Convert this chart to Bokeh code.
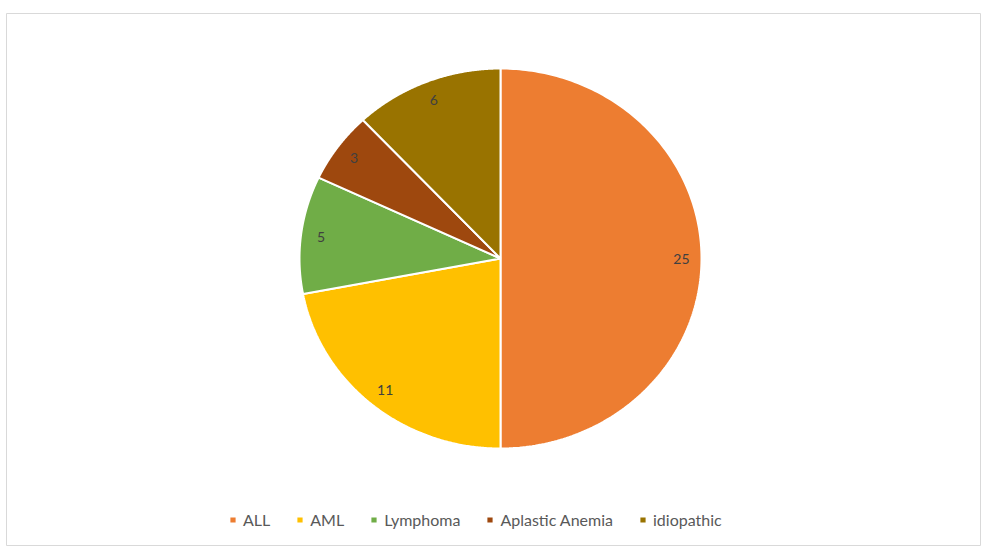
import numpy as np
from bokeh.plotting import figure
from bokeh.models import Range1d, ColumnDataSource, Legend, LegendItem
from bokeh.core.properties import value
from bokeh.embed import file_html
from bokeh.resources import INLINE

categories = ["ALL", "AML", "Lymphoma", "Aplastic Anemia", "idiopathic"]
counts = [25, 11, 5, 3, 6]
colors = ["#ED7D31", "#FFC000", "#70AD47", "#9E480E", "#997300"]

W, H = 981, 549
cx, cy, rx, ry = 500, 258, 201, 190

p = figure(width=W, height=H, output_backend="svg", toolbar_location=None,
           x_range=Range1d(6, W), y_range=Range1d(545, 13),
           min_border_left=6, min_border_top=13, min_border_bottom=4, min_border_right=0)
p.axis.visible = False
p.grid.visible = False
p.outline_line_color = "#d9d9d9"
p.outline_line_width = 1
p.background_fill_color = "white"
p.border_fill_color = "white"

vals = np.array(counts, dtype=float)
frac = vals / vals.sum()
ends = np.cumsum(frac) * 2 * np.pi
starts = ends - frac * 2 * np.pi

xs, ys, lx, ly = [], [], [], []
for s, e in zip(starts, ends):
    a = np.linspace(s, e, 200)
    xs.append(np.concatenate([[cx], cx + rx * np.sin(a), [cx]]))
    ys.append(np.concatenate([[cy], cy - ry * np.cos(a), [cy]]))
    m = (s + e) / 2
    lx.append(cx + 0.9 * rx * np.sin(m))
    ly.append(cy - 0.9 * ry * np.cos(m))

src = ColumnDataSource(dict(xs=xs, ys=ys, color=colors, cat=categories))
r = p.patches("xs", "ys", source=src, fill_color="color", line_color="white", line_width=2)

lsrc = ColumnDataSource(dict(x=lx, y=ly, t=[str(c) for c in counts]))
p.text("x", "y", text="t", source=lsrc, text_align="center", text_baseline="middle",
       text_font=value("Lato"), text_font_size="14px", text_color="#404040")

items = [LegendItem(label=c, renderers=[r], index=i) for i, c in enumerate(categories)]
legend = Legend(items=items, orientation="horizontal", location=(222, 16),
                label_text_font="Lato", label_text_font_size="16px", label_text_color="#595959",
                glyph_width=9, glyph_height=9, label_height=16, label_standoff=6,
                spacing=25, padding=0, margin=0, border_line_color=None,
                background_fill_alpha=0)
p.add_layout(legend, "center")

open("out.html", "w").write(file_html(p, INLINE))
